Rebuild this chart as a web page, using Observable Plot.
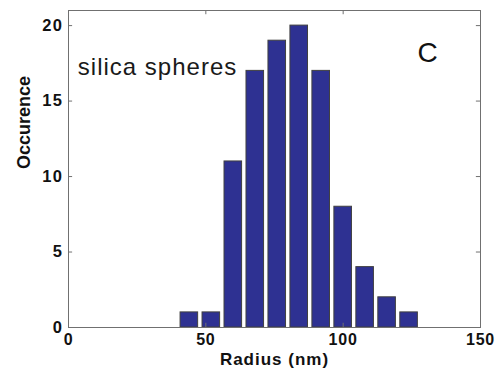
<!DOCTYPE html>
<html>
<head>
<meta charset="utf-8">
<script src="https://cdn.jsdelivr.net/npm/d3@7"></script>
<script src="https://cdn.jsdelivr.net/npm/@observablehq/plot@0.6"></script>
<style>
  body { margin: 0; background: #fff; }
  .stretch text { letter-spacing: 1.5px; }
  .stretchx text { letter-spacing: 0.8px; }
  .stretch2 text { letter-spacing: 1px; }
</style>
</head>
<body>
<div id="chart"></div>
<script>
const radius = [44, 52, 60, 68, 76, 84, 92, 100, 108, 116, 124];
const counts = [1, 1, 11, 17, 19, 20, 17, 8, 4, 2, 1];
const xTicks = [0, 50, 100, 150];
const yTicks = [0, 5, 10, 15, 20];

const data = radius.map((r, i) => ({r, n: counts[i]}));
const font = "Liberation Sans, Arial, sans-serif";

const plot = Plot.plot({
  width: 495,
  height: 378,
  marginLeft: 68,
  marginRight: 15,
  marginTop: 10,
  marginBottom: 51,
  style: {fontFamily: font, background: "#fff"},
  x: {domain: [0, 150], ticks: xTicks},
  y: {domain: [0, 21], ticks: yTicks},
  marks: [
    Plot.rectY(data, {x: "r", y: "n", interval: 8, insetLeft: 2.2, insetRight: 2.2, fill: "#2E3192", stroke: "#404040", strokeWidth: 1}),
    Plot.frame({stroke: "#707070", strokeWidth: 1}),
    Plot.ruleX([50, 100], {y1: 21, y2: 20.72, stroke: "#707070"}),
    Plot.ruleX([50, 100], {y1: 0, y2: 0.28, stroke: "#707070"}),
    Plot.ruleY([5, 10, 15, 20], {x1: 0, x2: 1.5, stroke: "#707070"}),
    Plot.ruleY([5, 10, 15, 20], {x1: 150, x2: 148.5, stroke: "#707070"}),
    Plot.axisX(xTicks, {tickSize: 0, tickPadding: 6, fontSize: 16, fontWeight: "bold", fill: "#111", label: null, className: "stretchx"}),
    Plot.axisY(yTicks, {tickSize: 0, tickPadding: 5, fontSize: 16.5, fontWeight: "bold", fill: "#111", label: null, className: "stretch"}),
    Plot.text(["Radius (nm)"], {frameAnchor: "bottom", dy: 37, fontSize: 17, fontWeight: "bold", fill: "#111", className: "stretch2"}),
    Plot.text(["Occurence"], {frameAnchor: "left", dx: -44, rotate: -90, fontSize: 18, fontWeight: "bold", fill: "#111"}),
    Plot.text(["silica spheres"], {x: 3.4, y: 17.25, textAnchor: "start", fontSize: 24, fill: "#1a1a1a", className: "stretch2"}),
    Plot.text(["C"], {x: 130.7, y: 18.2, fontSize: 28, fill: "#111"})
  ]
});
document.getElementById("chart").appendChild(plot);
</script>
</body>
</html>
